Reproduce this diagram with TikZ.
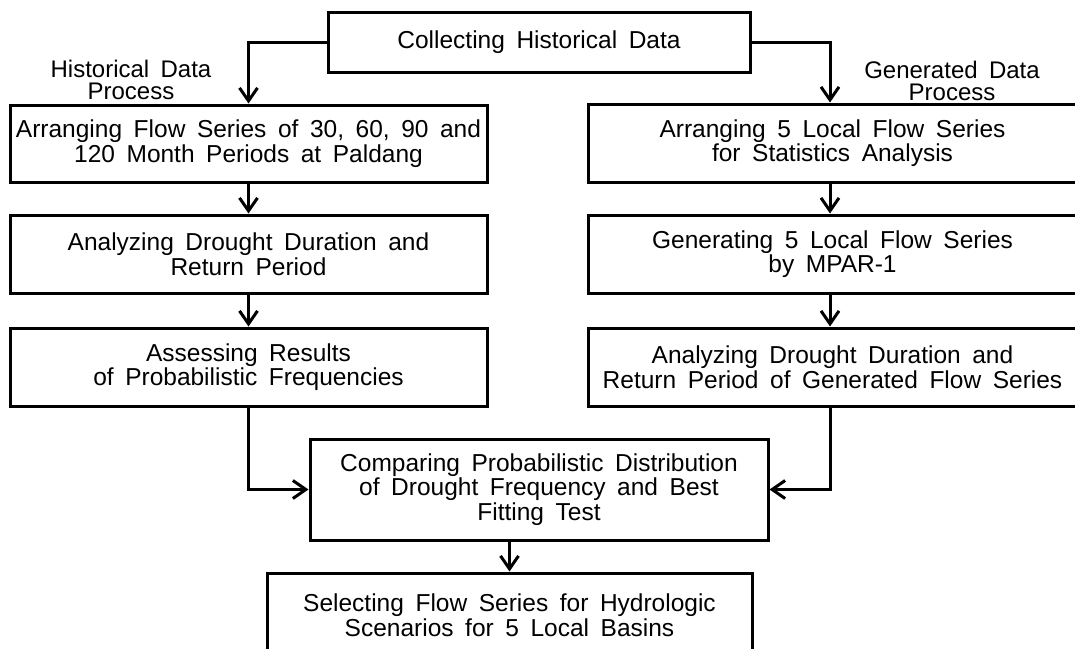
\documentclass[tikz,border=0pt]{standalone}
\usepackage{fontspec}
\setmainfont{Liberation Sans}[WordSpace=1.7]
\usetikzlibrary{arrows.meta}

\begin{document}
\begin{tikzpicture}
		[x=1pt, y=-1pt, line width=3pt, >={Straight Barb[length=13pt,width=18pt]},
		 box/.style = {draw, rectangle, align=center, inner sep=0pt, font=\fontsize{24.5}{24.5}\selectfont},
		 proc/.style = {align=center, inner sep=0pt, font=\fontsize{24}{22}\selectfont}]
	\clip (0,0) rectangle (1075,648);
	\coordinate (gcol) at (830,0);
	\node[box, minimum width=422pt, minimum height=60pt] (collect) at (539,42) {Collecting Historical Data};
	\node[proc] (hist) at (131,80) {Historical Data\\Process};
	\node[proc] (gen) at (952,81) {Generated Data\\Process};
	% historical column
	\node[box, minimum width=477pt, minimum height=77pt] (h1) at (248.5,143.5) {Arranging Flow Series of 30, 60, 90 and\\120 Month Periods at Paldang};
	\node[box, minimum width=477pt, minimum height=78pt] (h2) at (248.5,254) {Analyzing Drought Duration and\\Return Period};
	\node[box, minimum width=477pt, minimum height=78pt] (h3) at (248.5,367) {Assessing Results\\of Probabilistic Frequencies};
	% generated column
	\node[box, minimum width=489pt, minimum height=78pt] (g1) at (832.5,143) {Arranging 5 Local Flow Series\\for Statistics Analysis};
	\node[box, minimum width=489pt, minimum height=78pt] (g2) at (832.5,254) {Generating 5 Local Flow Series\\by MPAR-1};
	\node[box, minimum width=489pt, minimum height=78pt] (g3) at (832.5,367) {Analyzing Drought Duration and\\Return Period of Generated Flow Series};
	% comparison and selection
	\node[box, minimum width=458pt, minimum height=101pt] (comp) at (539,489.5) {Comparing Probabilistic Distribution\\of Drought Frequency and Best\\Fitting Test};
	\node[box, minimum width=485pt, minimum height=84pt] (select) at (509.5,615) {Selecting Flow Series for Hydrologic\\Scenarios for 5 Local Basins};
	\draw[->] (collect.west) -| (h1.north);
	\draw[->] (collect.east) -| (g1.north -| gcol);
	\draw[->] (h1) -- (h2);
	\draw[->] (h2) -- (h3);
	\draw[->] (g1.south -| gcol) -- (g2.north -| gcol);
	\draw[->] (g2.south -| gcol) -- (g3.north -| gcol);
	\draw[->] (h3.south) |- (comp.west);
	\draw[->] (g3.south -| gcol) |- (comp.east);
	\draw[->] (comp.south -| select.north) -- (select.north);
\end{tikzpicture}
\end{document}
